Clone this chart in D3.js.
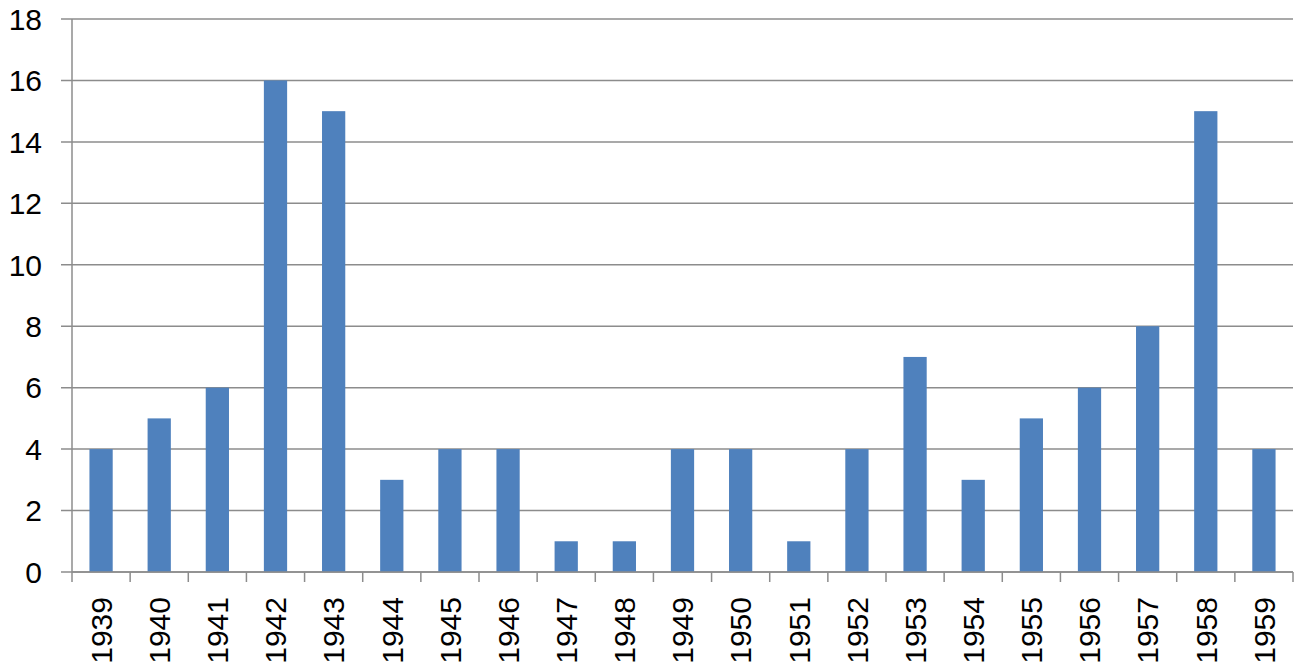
<!DOCTYPE html>
<html>
<head>
<meta charset="utf-8">
<script src="https://cdn.jsdelivr.net/npm/d3@7"></script>
<style>
  body { margin: 0; background: #fff; }
  svg { display: block; }
  text { font-family: "Liberation Sans", Arial, sans-serif; fill: #000; }
</style>
</head>
<body>
<svg id="chart" width="1299" height="672"></svg>
<script>
const years = ['1939','1940','1941','1942','1943','1944','1945','1946','1947','1948',
  '1949','1950','1951','1952','1953','1954','1955','1956','1957','1958','1959'];
const counts = [4, 5, 6, 16, 15, 3, 4, 4, 1, 1, 4, 4, 1, 4, 7, 3, 5, 6, 8, 15, 4];
const yTicks = [0, 2, 4, 6, 8, 10, 12, 14, 16, 18];

const plotLeft = 72, plotRight = 1293, plotTop = 19, plotBottom = 572;

const svg = d3.select('#chart');

const x = d3.scaleBand()
  .domain(years)
  .range([plotLeft, plotRight])
  .paddingInner(0.6)
  .paddingOuter(0.3);

const y = d3.scaleLinear()
  .domain([0, 18])
  .range([plotBottom, plotTop]);

// gridlines
svg.append('g')
  .selectAll('line')
  .data(yTicks)
  .enter()
  .append('line')
  .attr('x1', plotLeft - 11)
  .attr('x2', plotRight)
  .attr('y1', d => y(d))
  .attr('y2', d => y(d))
  .attr('stroke', '#8c8c8c')
  .attr('stroke-width', 1.5);

// y labels
svg.append('g')
  .selectAll('text')
  .data(yTicks)
  .enter()
  .append('text')
  .attr('x', 42)
  .attr('y', d => y(d))
  .attr('dy', '0.36em')
  .attr('text-anchor', 'end')
  .style('font-size', '30px')
  .text(d => d);

// bars
svg.append('g')
  .selectAll('.bar')
  .data(counts)
  .enter()
  .append('rect')
  .classed('bar', true)
  .attr('x', (d, i) => x(years[i]))
  .attr('width', x.bandwidth())
  .attr('y', d => y(d))
  .attr('height', d => plotBottom - y(d))
  .attr('fill', '#4f81bd');

// y axis line
svg.append('line')
  .attr('x1', plotLeft).attr('x2', plotLeft)
  .attr('y1', plotTop).attr('y2', plotBottom)
  .attr('stroke', '#8c8c8c')
  .attr('stroke-width', 1.5);

// x axis ticks at band edges
const edges = d3.range(years.length + 1).map(i => plotLeft + i * (plotRight - plotLeft) / years.length);
svg.append('g')
  .selectAll('line')
  .data(edges)
  .enter()
  .append('line')
  .attr('x1', d => d).attr('x2', d => d)
  .attr('y1', plotBottom).attr('y2', plotBottom + 10)
  .attr('stroke', '#8c8c8c')
  .attr('stroke-width', 1.5);

svg.append('line')
  .attr('x1', plotLeft).attr('x2', plotRight)
  .attr('y1', plotBottom).attr('y2', plotBottom)
  .attr('stroke', '#8c8c8c')
  .attr('stroke-width', 1.5);

// x labels, rotated
svg.append('g')
  .selectAll('text')
  .data(years)
  .enter()
  .append('text')
  .attr('transform', d => `translate(${x(d) + x.bandwidth() / 2},597) rotate(-90)`)
  .attr('dy', '0.36em')
  .attr('text-anchor', 'end')
  .style('font-size', '30px')
  .text(d => d);
</script>
</body>
</html>
